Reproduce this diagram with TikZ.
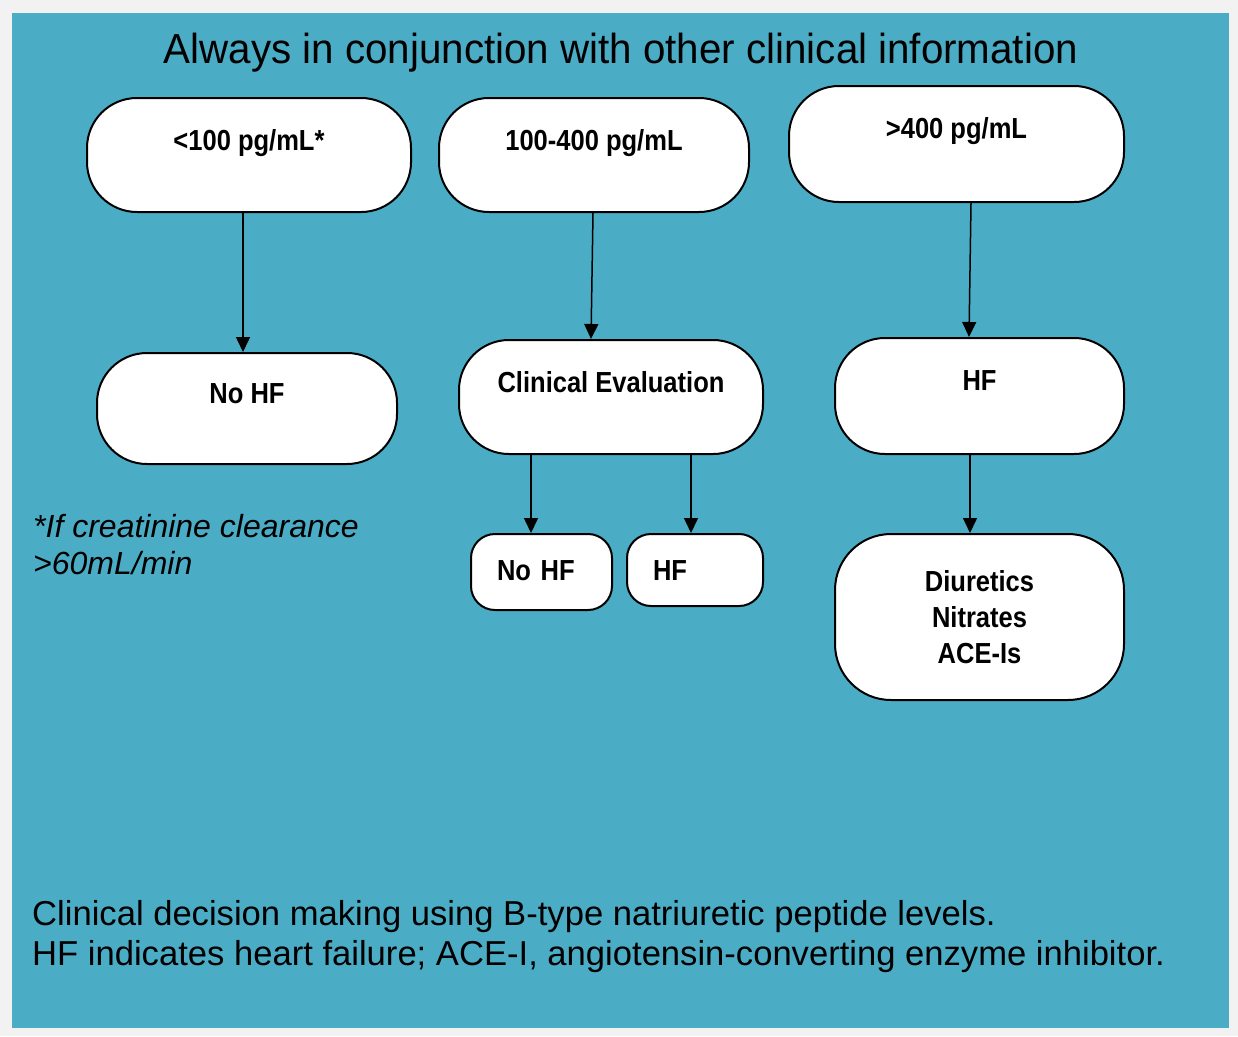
\documentclass[tikz,border=0pt]{standalone}
\usepackage{fontspec}
\setmainfont{Liberation Sans}
\newfontfamily\narrowfont[FakeStretch=0.88]{Liberation Sans}
\newfontfamily\titlefont[FakeStretch=0.96]{Liberation Sans}
\usetikzlibrary{arrows.meta}
\definecolor{cTeal}{HTML}{4BACC6}
\definecolor{cFrame}{HTML}{F2F2F2}
\definecolor{cInk}{HTML}{000000}

\begin{document}
\begin{tikzpicture}[
  x=1pt,y=-1pt,
  >={Triangle[length=15pt,width=14pt]},
  pill/.style={draw=cInk,line width=2pt,fill=white,rounded corners=50pt,
               anchor=north west,inner sep=0pt,align=center,
               font=\narrowfont\bfseries\fontsize{29}{36}\selectfont},
  small pill/.style={pill,rounded corners=24pt,align=left,inner xsep=26pt},
  down/.style={->,line width=1.5pt,cInk}
]
% frame and panel
\fill[cFrame] (0,0) rectangle (1238,1036);
\fill[cTeal] (12,13) rectangle (1229,1028);

\node[anchor=base,inner sep=0pt,font=\titlefont\fontsize{42}{50}\selectfont] (title) at (621,63)
  {Always in conjunction with other clinical information};

% levels
\node[pill,minimum width=324pt,text height=52pt,text depth=62pt] (low) at (86,97) {<100 pg/mL*};
\node[pill,minimum width=310pt,text height=52pt,text depth=62pt] (mid) at (438,97) {100-400 pg/mL};
\node[pill,minimum width=335pt,text height=52pt,text depth=64pt] (high) at (788,85) {>400 pg/mL};

% outcomes
\node[pill,minimum width=300pt,text height=50pt,text depth=61pt] (nohf) at (96,352) {No HF};
\node[pill,minimum width=304pt,text height=52pt,text depth=62pt] (eval) at (458,339) {Clinical Evaluation};
\node[pill,minimum width=289pt,text height=52pt,text depth=64pt] (hf) at (834,337) {HF};

\node[small pill,text width=89pt,text height=46pt,text depth=30pt] (evalno) at (470,533) {No HF};
\node[small pill,text width=84pt,text height=46pt,text depth=26pt] (evalhf) at (626,533) {HF};
\node[pill,rounded corners=56pt,minimum width=289pt,minimum height=166pt] (treat) at (834,533)
  {Diuretics\\Nitrates\\ACE-Is};

\draw[down] ([xshift=-6pt]low.south) -- ([xshift=-4pt]nohf.north);
\draw[down] ([xshift=-1pt]mid.south) -- ([xshift=-20pt]eval.north);
\draw[down] ([xshift=14.5pt]high.south) -- ([xshift=-10.5pt]hf.north);
\draw[down] ([xshift=-80pt]eval.south) -- ([xshift=-10.5pt]evalno.north);
\draw[down] ([xshift=80pt]eval.south) -- ([xshift=-4pt]evalhf.north);
\draw[down] ([xshift=-9.5pt]hf.south) -- ([xshift=-9.5pt]treat.north);

\node[anchor=north west,align=left,inner sep=0pt,font=\itshape\fontsize{32}{37}\selectfont] (note) at (33,514)
  {*If creatinine clearance\\>60mL/min};

\node[anchor=north west,align=left,inner sep=0pt,font=\fontsize{34.6}{40}\selectfont] (caption) at (32,900)
  {Clinical decision making using B-type natriuretic peptide levels.\\
   HF indicates heart failure; ACE-I, angiotensin-converting enzyme inhibitor.};
\end{tikzpicture}
\end{document}
